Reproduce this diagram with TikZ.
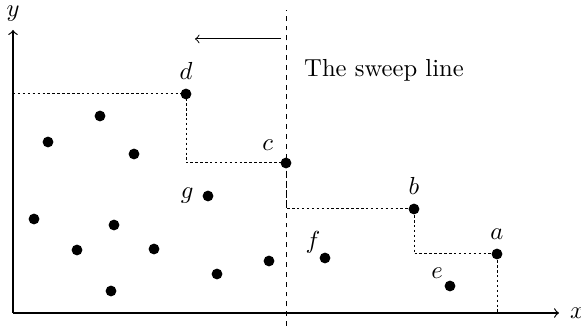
\documentclass[tikz,border=0pt]{standalone}
\usepackage{amsmath}
\usepackage{tikz}
\usetikzlibrary{positioning}

\begin{document}
\begin{tikzpicture}[x=0.406pt,y=0.406pt,
   pnt/.style={circle,fill=black,inner sep=0pt,minimum size=4.4pt},
   stair/.style={dash pattern=on 1pt off 1pt,line width=0.4pt},
   sweep/.style={dash pattern=on 2pt off 2pt,line width=0.4pt}]
\useasboundingbox (-13,-13) rectangle (568,313);
% axes
\coordinate (o) at (0,0);
\coordinate (xend) at (546,0);
\coordinate (yend) at (0,283);
\draw[->,line width=0.5pt] (o) -- (xend);
\draw[->,line width=0.5pt] (o) -- (yend);
\node[right=1pt of xend] (xlab) {$x$};
\node[above=0pt of yend] (ylab) {$y$};
% the points
\node[pnt,label={above:$a$}] (a) at (484,59) {};
\node[pnt,label={above:$b$}] (b) at (401,104) {};
\node[pnt,label={above left:$c$}] (c) at (273,150) {};
\node[pnt,label={above:$d$}] (d) at (173,219) {};
\node[pnt,label={[inner sep=1pt]above left:$e$}] (e) at (437,27) {};
\node[pnt,label={[inner sep=0pt]above left:$f$}] (f) at (312,55) {};
\node[pnt,label={left:$g$}] (g) at (195,117) {};
\foreach \x/\y [count=\i] in %
{87/197,35/171,121/159,21/94,101/88,64/63,141/64,204/39,256/52,98/22} {
   \node[pnt] (p\i) at (\x,\y) {};
}
% staircase
\coordinate (ytop) at (0,219);
\draw[stair] (ytop) -- (d.center) |- (c.center) |- (b.center) |- (a.center) -- (a |- o);
% sweep line
\coordinate (sbot) at (273,-13);
\coordinate (stop) at (273,303);
\draw[sweep] (sbot) -- (stop);
\coordinate (arrs) at (268,274);
\coordinate (arre) at (182,274);
\draw[->] (arrs) -- (arre);
\node (lab) at (371,243) {The sweep line};
\end{tikzpicture}
\end{document}
